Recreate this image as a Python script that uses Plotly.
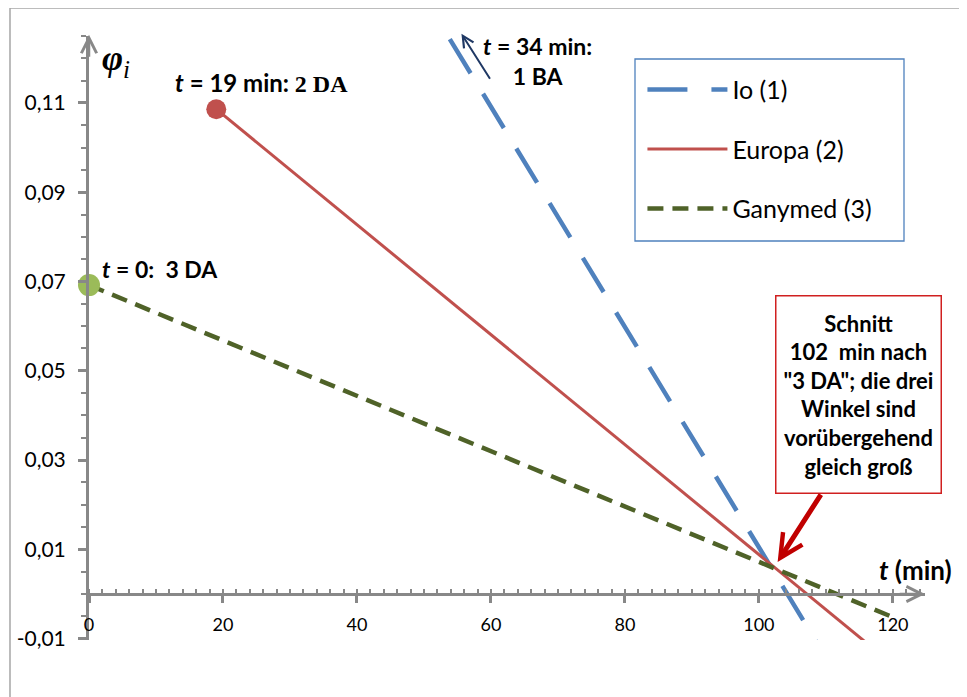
import plotly.graph_objects as go

# ---- data ----
t_io = [34, 110]
phi_io = [0.1733, -0.0142]

t_europa = [19, 117]
phi_europa = [0.1086, -0.0121]

t_ganymed = [0, 120]
phi_ganymed = [0.0692, -0.0052]

series_names = ["Io (1)", "Europa (2)", "Ganymed (3)"]

x_ticks = [0, 20, 40, 60, 80, 100, 120]
y_ticks = [-0.01, 0.01, 0.03, 0.05, 0.07, 0.09, 0.11]

Y_MIN, Y_MAX = -0.0103, 0.125
X_MIN, X_MAX = 0, 124.8

FONT = "Lato"
AXIS_GREY = "#888888"

fig = go.Figure()

fig.add_trace(go.Scatter(
    x=t_io, y=phi_io, mode="lines", name=series_names[0], legendgroup="1",
    line=dict(color="#4F81BD", width=4.5, dash="40px,24px")))
fig.add_trace(go.Scatter(
    x=t_europa, y=phi_europa, mode="lines", name=series_names[1], legendgroup="2",
    line=dict(color="#C0504D", width=3)))
fig.add_trace(go.Scatter(
    x=t_ganymed, y=phi_ganymed, mode="lines", name=series_names[2], legendgroup="3",
    line=dict(color="#4F6228", width=4.5, dash="16px,9px")))

# start markers
fig.add_trace(go.Scatter(
    x=[t_europa[0]], y=[phi_europa[0]], mode="markers", showlegend=False,
    marker=dict(color="#C0504D", size=20), cliponaxis=False))
fig.add_trace(go.Scatter(
    x=[t_ganymed[0]], y=[phi_ganymed[0]], mode="markers", showlegend=False,
    marker=dict(color="#9BBB59", size=22), cliponaxis=False))

annotations = [
    # axis arrow heads
    dict(x=X_MAX, y=0, ax=X_MAX - 4, ay=0, xref="x", yref="y", axref="x", ayref="y",
         text="", showarrow=True, arrowhead=5, arrowsize=1.2, arrowwidth=2.5,
         arrowcolor=AXIS_GREY),
    dict(x=0, y=Y_MAX + 0.0003, ax=0, ay=Y_MAX - 0.005, xref="x", yref="y", axref="x", ayref="y",
         text="", showarrow=True, arrowhead=5, arrowsize=1.2, arrowwidth=2.5,
         arrowcolor=AXIS_GREY),
    # phi_i axis label
    dict(x=4.0, y=0.1195, xref="x", yref="y", showarrow=False,
         text="<b><i>φ</i></b><i><sub>i</sub></i>",
         font=dict(family="Liberation Serif", size=36, color="black")),
    # t (min)
    dict(x=123.4, y=0.0054, xref="x", yref="y", showarrow=False,
         text="<b><i>t</i> (min)</b>",
         font=dict(family=FONT, size=26, color="black")),
    # labels
    dict(x=25.7, y=0.1146, xref="x", yref="y", showarrow=False,
         text="<b><i>t</i> = 19 min: </b><span style='font-family:Liberation Serif'><b>2 DA</b></span>",
         font=dict(family=FONT, size=24, color="black")),
    dict(x=1.6, y=0.0727, xref="x", yref="y", showarrow=False, xanchor="left",
         text="<b><i>t</i> = 0:  3 DA</b>",
         font=dict(family=FONT, size=23, color="black")),
    dict(x=66.9, y=0.1195, xref="x", yref="y", showarrow=False,
         text="<b><i>t</i> = 34 min:<br>1 BA</b>",
         font=dict(family=FONT, size=23, color="black")),
    # navy arrow to Io start
    dict(x=55.6, y=0.1255, ax=60.0, ay=0.1151, xref="x", yref="y", axref="x", ayref="y",
         text="", showarrow=True, arrowhead=5, arrowsize=1.1, arrowwidth=2,
         arrowcolor="#1F3864"),
    # intersection note
    dict(x=114.8, y=0.0446, xref="x", yref="y", showarrow=False,
         text="Schnitt<br>102  min nach<br>\"3 DA\"; die drei<br>Winkel sind<br>vorübergehend<br>gleich groß",
         font=dict(family=FONT, size=22, color="black", weight="bold"),
         bordercolor="#D02020", borderwidth=1.5, bgcolor="white",
         width=162, height=194, align="center"),
    # red arrow to intersection
    dict(x=102.8, y=0.0072, ax=109.4, ay=0.0226, xref="x", yref="y", axref="x", ayref="y",
         text="", showarrow=True, arrowhead=5, arrowsize=0.9, arrowwidth=5,
         arrowcolor="#C00000"),
]

# the page adds an 8px body margin, so the figure is made 8px smaller and the
# plot area is placed to land at the reference's pixel positions
fig.update_layout(
    width=959, height=689,
    margin=dict(l=81, r=42, t=28, b=57, autoexpand=False),
    paper_bgcolor="white", plot_bgcolor="white",
    separators=", ",
    font=dict(family=FONT, color="black"),
    showlegend=True,
    legend=dict(
        x=0.662, y=0.949, xanchor="left", yanchor="top",
        borderwidth=0, bgcolor="rgba(0,0,0,0)",
        font=dict(family=FONT, size=25, color="black"),
        tracegroupgap=24, itemwidth=80,
    ),
    annotations=annotations,
    shapes=[
        # chart frame
        dict(type="rect", xref="paper", yref="paper",
             x0=-0.0945, x1=1.3, y0=-0.4, y1=1.0464,
             line=dict(color="#A6A6A6", width=1.5), layer="below"),
        # legend frame
        dict(type="rect", xref="paper", yref="paper",
             x0=(635 - 89) / 836, x1=(904 - 89) / 836,
             y0=(640 - 241) / 604, y1=(640 - 59) / 604,
             line=dict(color="#4F81BD", width=1.3), fillcolor="white", layer="below"),
    ],
)

fig.update_xaxes(
    range=[X_MIN, X_MAX], anchor="free", position=(0 - Y_MIN) / (Y_MAX - Y_MIN),
    automargin=False,
    tickmode="array", tickvals=x_ticks, ticktext=[str(v) for v in x_ticks],
    ticks="outside", ticklen=7, tickwidth=3, tickcolor=AXIS_GREY,
    showline=True, linecolor=AXIS_GREY, linewidth=3,
    showgrid=False, zeroline=False,
    minor=dict(dtick=2, tick0=0, ticks="inside", ticklen=4, tickwidth=2,
               tickcolor=AXIS_GREY, showgrid=False),
    tickfont=dict(family=FONT, size=18, color="black"),
    ticklabelstandoff=6,
)
fig.update_yaxes(
    range=[Y_MIN, Y_MAX], automargin=False,
    tickmode="array", tickvals=y_ticks, ticktext=[f"{v:.2f}".replace(".", ",") for v in y_ticks],
    ticks="outside", ticklen=8, tickwidth=3, tickcolor=AXIS_GREY,
    showline=True, linecolor=AXIS_GREY, linewidth=3,
    showgrid=False, zeroline=False,
    minor=dict(dtick=0.005, tick0=0, ticks="outside", ticklen=5, tickwidth=2,
               tickcolor=AXIS_GREY, showgrid=False),
    tickfont=dict(family=FONT, size=21, color="black"),
    ticklabelstandoff=8,
)

fig.write_html("out.html")
